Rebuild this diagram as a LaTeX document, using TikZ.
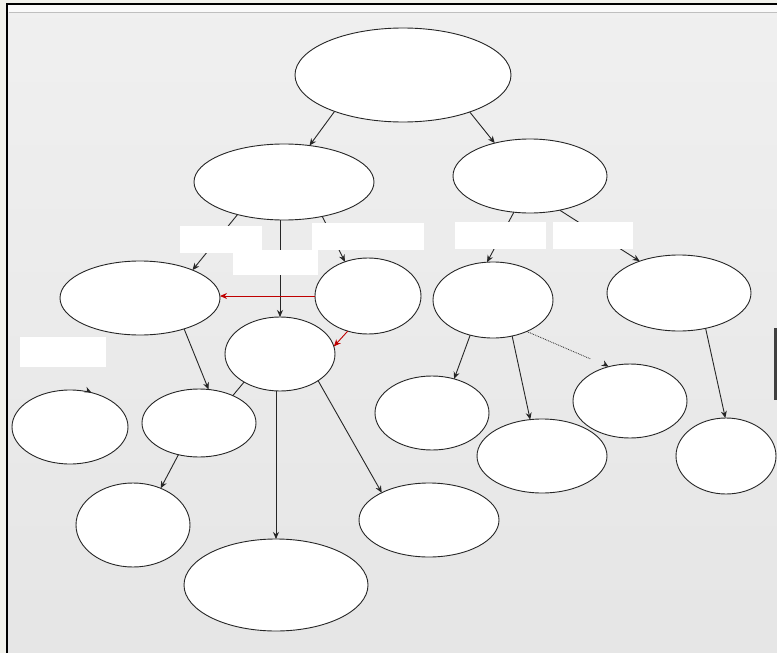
\documentclass[tikz,border=0pt]{standalone}
\usetikzlibrary{shapes.geometric,arrows.meta,calc}
\begin{document}
\begin{tikzpicture}[x=1pt,y=-1pt,
 el/.style={ellipse,draw=black!85,line width=0.9pt,fill=white,inner sep=0pt,outer sep=0pt},
 lbl/.style={rectangle,fill=white,inner sep=0pt,outer sep=0pt},
 conn/.style={line width=0.9pt,draw=black!85,-{Stealth[length=7pt,width=6pt]}},
 plainconn/.style={line width=0.9pt,draw=black!85},
 redconn/.style={line width=0.9pt,draw=red!75!black,-{Stealth[length=7pt,width=6pt]}},
 dotconn/.style={line width=0.8pt,draw=black!85,densely dotted},
 tiptri/.style={line width=0.9pt,draw=black!85,-{Stealth[length=7pt,width=6pt]}}
]
\useasboundingbox (0,0) rectangle (777,653);
% background and frame
\fill[color={rgb,255:red,242;green,242;blue,236}] (0,0) rectangle (777,653);
\shade[top color=black!6, middle color=black!2, bottom color=black!10] (8,5) rectangle (777,653);
\fill[black!2] (8,5) rectangle (777,12);
\draw[black!25,line width=1.5pt] (9,12.5) -- (777,12.5);
\draw[black,line width=2.5pt] (7,653) -- (7,4) -- (777,4);
\fill[black!75] (774,328) rectangle (777,400);

% ellipses
\node[el,minimum width=216,minimum height=94] (e1) at (403,75) {};
\node[el,minimum width=180,minimum height=76] (e2) at (284,182) {};
\node[el,minimum width=154,minimum height=74] (e3) at (530,176) {};
\node[el,minimum width=160,minimum height=74] (e4) at (140,298) {};
\node[el,minimum width=106,minimum height=76] (e5) at (368,296) {};
\node[el,minimum width=110,minimum height=74] (e6) at (280,354) {};
\node[el,minimum width=120,minimum height=76] (e7) at (493,300) {};
\node[el,minimum width=144,minimum height=76] (e8) at (679,293) {};
\node[el,minimum width=116,minimum height=74] (e9) at (70,427) {};
\node[el,minimum width=114,minimum height=68] (e10) at (199,423) {};
\node[el,minimum width=114,minimum height=74] (e11) at (432,413) {};
\node[el,minimum width=130,minimum height=74] (e12) at (542,456) {};
\node[el,minimum width=114,minimum height=74] (e13) at (630,401) {};
\node[el,minimum width=100,minimum height=76] (e14) at (726,456) {};
\node[el,minimum width=114,minimum height=84] (e15) at (133,525) {};
\node[el,minimum width=140,minimum height=74] (e16) at (429,520) {};
\node[el,minimum width=184,minimum height=92] (e17) at (276,585) {};

% connectors
\draw[conn] (e1.208) -- (e2.55);
\draw[conn] (e1.331) -- (e3.137);
\draw[conn] (e2.215) -- (e4.28);
\draw[conn] (e2.south -| e6.north) -- (e6.north);
\draw[conn] (e2.318) -- (e5.124);
\draw[redconn] (e5.west) -- (e5.west -| e4.east);
\draw[redconn] (e5.240) -- (e6.8);
\draw[conn] (e3.246) -- (e7.99);
\draw[conn] (e3.311) -- (e8.141);
\draw[conn] (e4.325) -- (e10.74);
\draw[plainconn] (e6.218) -- (e10.39);
\draw[conn] (e10.237) -- (e15.53);
\draw[conn] (e6.south -| e17.north) -- (e17.north);
\draw[conn] (e6.325) -- (e16.150);
\draw[conn] (e7.237) -- (e11.57);
\draw[conn] (e7.298) -- (e12.108);
\draw[dotconn] (e7.317) -- ($(e7.317)!0.78!(e13.122)$);
\draw[tiptri] ([shift={(-2,-1.2)}]e13.122) -- (e13.122);
\draw[conn] (e8.307) -- (e14.91);
\draw[tiptri] ([shift={(-2,-1)}]e9.58) -- (e9.58);

% blank label boxes
\node[lbl,minimum width=82,minimum height=27] (b1) at (221,239) {};
\node[lbl,minimum width=112,minimum height=27] (b2) at (368,236.5) {};
\node[lbl,minimum width=85,minimum height=25] (b3) at (275.5,262.5) {};
\node[lbl,minimum width=91,minimum height=27] (b4) at (500.5,235.5) {};
\node[lbl,minimum width=80,minimum height=27] (b5) at (593,235.5) {};
\node[lbl,minimum width=86,minimum height=30] (b6) at (63,352) {};
\end{tikzpicture}
\end{document}
